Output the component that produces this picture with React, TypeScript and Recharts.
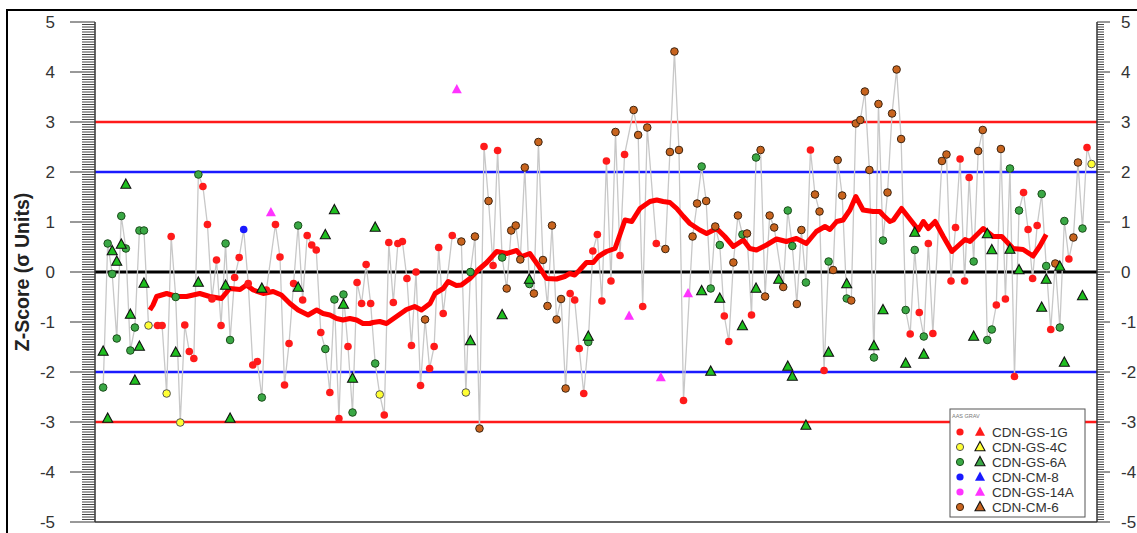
import React from 'react';
import { ComposedChart, Line, Scatter, XAxis, YAxis, ReferenceLine } from 'recharts';

type P = [number, number];

// Z-scores by sample sequence number: [sample, z]
const gs1gAAS: P[] = [
  [14, -1.07], [15, -1.07], [17, 0.71], [20, -1.06], [21, -1.59], [22, -1.73], [24, 1.71], [25, 0.95],
  [26, -0.54], [27, 0.24], [28, -1.07], [31, -0.11], [32, 0.29], [34, -0.23], [35, -1.86], [36, -1.79],
  [38, -0.36], [40, 0.95], [41, 0.3], [42, -2.26], [43, -1.43], [44, -0.23], [46, -0.56], [47, 0.73],
  [48, 0.54], [49, 0.44], [50, -1.21], [52, -2.41], [54, -2.93], [56, -1.49], [58, -0.21], [59, -0.63],
  [60, 0.15], [61, -0.63], [64, -2.86], [65, 0.59], [66, -0.61], [67, 0.57], [68, 0.61], [69, -0.13],
  [70, -1.47], [71, 0.0], [72, -2.27], [74, -1.93], [75, -1.49], [76, 0.49], [77, -0.83], [79, 0.73],
  [86, 2.51], [88, 0.13], [89, 2.43], [105, -0.43], [106, -0.56], [107, -1.53], [108, -2.43], [110, 0.42],
  [111, 0.75], [112, -0.58], [113, 2.22], [114, -0.18], [116, 0.33], [117, 2.35], [121, -0.69], [124, 0.57],
  [130, -2.57], [139, -0.88], [140, -1.39], [145, -0.86], [158, 2.44], [161, -1.97], [180, -1.24], [182, -0.81],
  [184, 0.57], [185, -1.23], [189, -0.18], [190, 0.89], [191, 2.26], [192, -0.18], [193, 1.89], [199, -0.66],
  [201, -0.54], [203, -2.09], [205, 1.59], [206, 0.85], [207, -0.13], [208, 0.93], [211, -1.15], [215, 0.26],
  [219, 2.49],
];
const gs4cAAS: P[] = [[12, -1.07], [16, -2.43], [19, -3.01], [63, -2.45], [82, -2.41], [220, 2.16]];
const gs6aAAS: P[] = [
  [2, -2.31], [3, 0.57], [4, -0.04], [5, -1.33], [6, 1.12], [7, 0.47], [8, -1.57], [9, -1.11], [10, 0.83],
  [11, 0.83], [18, -0.5], [23, 1.95], [29, 0.57], [30, -1.36], [37, -2.51], [45, 0.93], [51, -1.54],
  [53, -0.55], [55, -0.45], [57, -2.81], [62, -1.83], [83, 0.0], [90, 0.29], [96, -0.24], [109, -1.4],
  [134, 2.11], [136, -0.33], [138, 0.54], [143, 0.75], [146, 2.29], [153, 1.23], [154, 0.52], [157, -0.21],
  [162, 0.21], [166, -0.53], [172, -1.71], [174, 0.63], [179, -0.76], [181, 0.44], [183, -1.29], [194, 0.21],
  [197, -1.36], [198, -1.15], [202, 2.07], [204, 1.23], [209, 1.56], [210, 0.12], [213, -1.11], [214, 1.02],
  [218, 0.87],
];
const gs6aGRAV: P[] = [
  [2, -1.59], [3, -2.93], [4, 0.42], [5, 0.21], [6, 0.55], [7, 1.75], [8, -0.85], [9, -2.17], [10, -1.49],
  [11, -0.23], [18, -1.61], [23, -0.21], [29, -0.27], [30, -2.93], [37, -0.33], [45, -0.31], [51, 0.74],
  [53, 1.24], [55, -0.65], [57, -2.13], [62, 0.89], [83, -1.38], [90, -0.86], [96, -0.15], [109, -1.29],
  [134, -0.38], [136, -1.99], [138, -0.53], [143, -1.08], [146, -0.33], [151, -0.15], [153, -1.89],
  [154, -2.09], [157, -3.07], [162, -1.61], [166, -0.24], [172, -1.48], [174, -0.76], [179, -1.83],
  [181, 0.79], [183, -1.65], [194, -1.29], [197, 0.76], [198, 0.44], [202, 0.45], [204, 0.04], [209, -0.71],
  [210, -0.15], [213, 0.11], [214, -1.81], [218, -0.48],
];
const cm8AAS: P[] = [[33, 0.85]];
const gs14aGRAV: P[] = [[39, 1.19], [80, 3.65], [118, -0.88], [125, -2.11], [131, -0.43]];
const cm6AAS: P[] = [
  [73, -0.95], [81, 0.61], [84, 0.71], [85, -3.13], [87, 1.42], [91, -0.33], [92, 0.83], [93, 0.93],
  [94, 0.25], [95, 2.09], [97, -0.43], [98, 2.6], [99, 0.24], [100, -0.68], [101, 0.93], [102, -0.95],
  [103, -0.54], [104, -2.33], [115, 2.8], [119, 3.24], [120, 2.74], [122, 2.89], [126, 0.46], [127, 2.4],
  [128, 4.41], [129, 2.44], [132, 0.71], [133, 1.37], [135, 1.42], [137, 0.91], [141, 0.19], [142, 1.13],
  [144, 0.77], [147, 2.44], [148, -0.49], [149, 1.13], [150, 0.89], [152, -0.3], [155, -0.64], [156, 0.84],
  [159, 1.55], [160, 1.21], [163, 0.04], [164, 2.24], [165, 1.53], [167, -0.57], [168, 2.97], [169, 3.04],
  [170, 3.61], [171, 2.04], [173, 3.36], [175, 1.59], [176, 3.17], [177, 4.05], [178, 2.66], [187, 2.22],
  [188, 2.35], [195, 2.42], [196, 2.84], [200, 2.46], [212, 0.17], [216, 0.69], [217, 2.19],
];

// Moving average trend
const movingAvg: P[] = [
  [12.3, -0.76], [13.0, -0.66], [13.8, -0.49], [16.0, -0.43], [18.2, -0.49], [20.4, -0.49], [23.3, -0.43],
  [25.5, -0.49], [28.1, -0.53], [29.9, -0.33], [32.2, -0.35], [33.6, -0.26], [35.1, -0.36], [37.3, -0.43],
  [39.5, -0.39], [41.3, -0.46], [43.2, -0.63], [45.0, -0.76], [47.2, -0.86], [49.1, -0.76], [50.5, -0.83],
  [52.0, -0.86], [53.5, -0.93], [54.9, -0.96], [56.4, -0.93], [57.9, -0.96], [59.3, -1.03], [60.8, -1.03],
  [61.5, -1.01], [63.0, -0.99], [64.5, -1.03], [66.7, -0.89], [68.9, -0.75], [70.7, -0.69], [72.2, -0.76],
  [74.1, -0.63], [75.2, -0.43], [77.0, -0.33], [78.1, -0.19], [79.9, -0.27], [81.0, -0.26], [82.9, -0.13],
  [84.7, 0.04], [86.6, 0.19], [88.8, 0.41], [91.0, 0.37], [93.2, 0.43], [94.3, 0.31], [96.1, 0.37],
  [97.9, 0.14], [99.8, -0.13], [102.0, -0.14], [103.8, -0.09], [104.9, -0.03], [106.0, -0.06], [107.1, 0.04],
  [108.6, 0.19], [110.1, 0.19], [111.2, 0.31], [113.0, 0.41], [114.9, 0.47], [117.1, 1.04], [118.6, 1.01],
  [120.4, 1.27], [122.6, 1.41], [124.1, 1.44], [125.5, 1.41], [127.0, 1.39], [128.5, 1.27], [130.0, 1.11],
  [131.4, 0.97], [133.6, 0.84], [135.1, 0.77], [137.3, 0.87], [139.1, 0.71], [141.0, 0.51], [143.2, 0.64],
  [144.6, 0.47], [146.1, 0.44], [148.3, 0.54], [150.5, 0.66], [152.7, 0.61], [154.9, 0.67], [157.1, 0.57],
  [159.3, 0.81], [161.2, 0.91], [162.3, 0.85], [163.8, 1.01], [165.2, 1.04], [166.7, 1.24], [168.0, 1.51],
  [169.6, 1.24], [171.8, 1.21], [173.3, 1.21], [174.0, 1.14], [175.5, 1.01], [176.3, 1.04], [178.1, 1.27],
  [180.7, 0.97], [181.8, 0.84], [182.9, 1.01], [184.0, 0.87], [185.5, 1.01], [187.3, 0.71], [189.2, 0.41],
  [192.1, 0.65], [193.2, 0.61], [196.1, 0.87], [198.3, 0.71], [200.2, 0.71], [202.7, 0.47], [204.9, 0.45],
  [207.1, 0.32], [208.6, 0.52], [210.0, 0.75],
];

const majorTicks = [-5, -4, -3, -2, -1, 0, 1, 2, 3, 4, 5];
const minorPerUnit = 20;

const legendNames = ['CDN-GS-1G', 'CDN-GS-4C', 'CDN-GS-6A', 'CDN-CM-8', 'CDN-GS-14A', 'CDN-CM-6'];
const legendFills = ['#ff1a1a', '#ffff33', '#3aa845', '#1a1aff', '#ff33ff', '#c8641e'];
const legendStrokes = ['none', '#555', '#1a4d1a', 'none', 'none', '#3d2410'];

const rows = (a: P[]) => a.map(([n, z]) => ({ n, z }));
const aasAll = rows([...gs1gAAS, ...gs4cAAS, ...gs6aAAS, ...cm8AAS, ...cm6AAS].sort((a, b) => a[0] - b[0]));

const allTicks: number[] = [];
for (let i = majorTicks[0] * minorPerUnit; i <= majorTicks[majorTicks.length - 1] * minorPerUnit; i++) {
  allTicks.push(Math.round((i / minorPerUnit) * 1000) / 1000);
}

const circleShape = (fill: string, stroke: string) => (p: any) => (
  <circle cx={p.cx} cy={p.cy} r={3.8} fill={fill} stroke={stroke} strokeWidth={stroke === 'none' ? 0 : 1} />
);
const triShape = (fill: string, stroke: string) => (p: any) => (
  <polygon
    points={`${p.cx},${p.cy - 5.5} ${p.cx + 5},${p.cy + 3.8} ${p.cx - 5},${p.cy + 3.8}`}
    fill={fill}
    stroke={stroke}
    strokeWidth={stroke === 'none' ? 0 : 1.1}
  />
);

const makeTick = (side: 'left' | 'right') => (props: any) => {
  const { x, y, payload } = props;
  const v = payload.value as number;
  const major = Math.abs(v - Math.round(v)) < 1e-6;
  const dir = side === 'left' ? -1 : 1;
  const len = major ? (side === 'left' ? 25 : 13) : side === 'left' ? 13 : 7;
  return (
    <g>
      <line x1={x} y1={y} x2={x + dir * len} y2={y} stroke={major ? '#333' : '#444'} strokeWidth={1} />
      {major && (
        <text
          x={side === 'left' ? x - 40 : x + 24}
          y={y}
          dy="0.36em"
          textAnchor={side === 'left' ? 'end' : 'start'}
          fontSize={17}
          fill="#333"
          fontFamily="Liberation Sans, Arial, sans-serif"
        >
          {v}
        </text>
      )}
    </g>
  );
};

export default function App() {
  return (
    <div style={{ position: 'absolute', left: 0, top: 0, width: 1137, height: 533, background: '#fff', overflow: 'hidden' }}>
      <ComposedChart width={1137} height={533} margin={{ top: 22, right: 0, bottom: 11, left: 0 }}>
        <XAxis type="number" dataKey="n" domain={[0.2, 221.2]} hide allowDataOverflow />
        <YAxis
          yAxisId="left"
          type="number"
          domain={[-5, 5]}
          ticks={allTicks}
          interval={0}
          width={95}
          tickSize={0}
          tickMargin={0}
          tickLine={false}
          axisLine={{ stroke: '#333', strokeWidth: 1.5 }}
          tick={makeTick('left')}
          allowDataOverflow
        />
        <YAxis
          yAxisId="right"
          orientation="right"
          type="number"
          domain={[-5, 5]}
          ticks={allTicks}
          interval={0}
          width={40}
          tickSize={0}
          tickMargin={0}
          tickLine={false}
          axisLine={{ stroke: '#333', strokeWidth: 1.5 }}
          tick={makeTick('right')}
          allowDataOverflow
        />
        <ReferenceLine yAxisId="left" y={-5} stroke="#333" strokeWidth={1.5} />
        <ReferenceLine yAxisId="left" y={3} stroke="#ff1a1a" strokeWidth={2.5} />
        <ReferenceLine yAxisId="left" y={-3} stroke="#ff1a1a" strokeWidth={2.5} />
        <ReferenceLine yAxisId="left" y={2} stroke="#1a1aff" strokeWidth={2.5} />
        <ReferenceLine yAxisId="left" y={-2} stroke="#1a1aff" strokeWidth={2.5} />
        <ReferenceLine yAxisId="left" y={0} stroke="#000" strokeWidth={3} />
        <Line
          yAxisId="left"
          data={aasAll}
          dataKey="z"
          stroke="#c8c8c8"
          strokeWidth={1.3}
          dot={false}
          isAnimationActive={false}
        />
        <Scatter yAxisId="left" data={rows(gs1gAAS)} dataKey="z" shape={circleShape(legendFills[0], legendStrokes[0])} isAnimationActive={false} />
        <Scatter yAxisId="left" data={rows(gs4cAAS)} dataKey="z" shape={circleShape(legendFills[1], legendStrokes[1])} isAnimationActive={false} />
        <Scatter yAxisId="left" data={rows(gs6aAAS)} dataKey="z" shape={circleShape(legendFills[2], legendStrokes[2])} isAnimationActive={false} />
        <Scatter yAxisId="left" data={rows(cm8AAS)} dataKey="z" shape={circleShape(legendFills[3], legendStrokes[3])} isAnimationActive={false} />
        <Scatter yAxisId="left" data={rows(cm6AAS)} dataKey="z" shape={circleShape(legendFills[5], legendStrokes[5])} isAnimationActive={false} />
        <Line
          yAxisId="left"
          data={rows(movingAvg)}
          dataKey="z"
          stroke="#ff0000"
          strokeWidth={5}
          strokeLinejoin="round"
          dot={false}
          isAnimationActive={false}
        />
        <Scatter yAxisId="left" data={rows(gs6aGRAV)} dataKey="z" shape={triShape('#1fbf1f', '#111')} isAnimationActive={false} />
        <Scatter yAxisId="left" data={rows(gs14aGRAV)} dataKey="z" shape={triShape(legendFills[4], 'none')} isAnimationActive={false} />
      </ComposedChart>
      <svg width={1137} height={533} style={{ position: 'absolute', left: 0, top: 0, pointerEvents: 'none' }}>
        <rect x={7} y={10} width={1140} height={540} fill="none" stroke="#000" strokeWidth={2} />
        <text
          x={22}
          y={272}
          transform="rotate(-90 22 272)"
          textAnchor="middle"
          dy="0.35em"
          fontSize={19.5}
          fontWeight="bold"
          fill="#222"
          fontFamily="Liberation Sans, Arial, sans-serif"
        >
          Z-Score (σ Units)
        </text>
        <g>
          <rect x={950} y={409} width={135} height={108} fill="#fff" stroke="#555" strokeWidth={1} />
          <text x={952} y={418} fontSize={5.5} fill="#777" fontFamily="Liberation Sans, Arial, sans-serif">AAS  GRAV</text>
          {legendNames.map((name, i) => {
            const cy = 432 + i * 15;
            const s = legendStrokes[i];
            return (
              <g key={name}>
                <circle cx={960} cy={cy} r={3.6} fill={legendFills[i]} stroke={s} strokeWidth={s === 'none' ? 0 : 1} />
                <polygon
                  points={`980,${cy - 5.5} 985,${cy + 3.8} 975,${cy + 3.8}`}
                  fill={legendFills[i]}
                  stroke={s === 'none' ? 'none' : '#111'}
                  strokeWidth={s === 'none' ? 0 : 1.1}
                />
                <text x={992} y={cy} dy="0.36em" fontSize={13.5} fill="#333" fontFamily="Liberation Sans, Arial, sans-serif">
                  {name}
                </text>
              </g>
            );
          })}
        </g>
      </svg>
    </div>
  );
}
